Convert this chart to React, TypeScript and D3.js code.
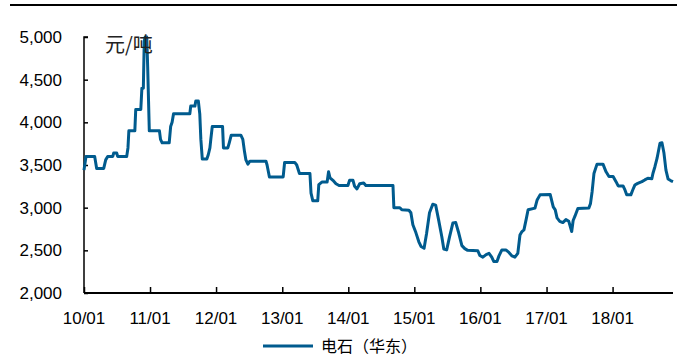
import React, { useEffect, useRef } from 'react';
import * as d3 from 'd3';

// 电石（华东）price, yuan/ton
const dates = [
  '2010-01-01', '2010-01-12', '2010-03-01', '2010-03-12', '2010-04-20', '2010-05-01', '2010-05-12', '2010-06-09',
  '2010-06-14', '2010-07-01', '2010-07-06', '2010-08-25', '2010-09-01', '2010-09-06', '2010-10-09', '2010-10-14',
  '2010-11-11', '2010-11-17', '2010-11-25', '2010-11-30', '2010-12-05', '2010-12-14', '2010-12-19', '2010-12-28',
  '2011-02-22', '2011-02-28', '2011-03-09', '2011-04-17', '2011-04-25', '2011-05-03', '2011-05-11', '2011-08-09',
  '2011-08-14', '2011-09-06', '2011-09-11', '2011-09-25', '2011-10-03', '2011-10-09', '2011-10-17', '2011-11-11',
  '2011-11-19', '2011-11-28', '2011-12-03', '2011-12-11', '2012-02-06', '2012-02-11', '2012-03-06', '2012-03-14',
  '2012-03-25', '2012-05-17', '2012-05-28', '2012-06-06', '2012-06-14', '2012-06-25', '2012-07-06', '2012-10-03',
  '2012-10-09', '2012-10-22', '2013-01-06', '2013-01-14', '2013-03-11', '2013-03-22', '2013-04-06', '2013-06-03',
  '2013-06-09', '2013-06-19', '2013-07-16', '2013-07-22', '2013-08-08', '2013-09-06', '2013-09-14', '2013-09-22',
  '2013-10-08', '2013-10-25', '2013-11-11', '2013-12-30', '2014-01-08', '2014-01-27', '2014-02-05', '2014-02-18',
  '2014-03-05', '2014-03-27', '2014-04-08', '2014-09-05', '2014-09-10', '2014-10-13', '2014-10-24', '2014-12-02',
  '2014-12-13', '2014-12-24', '2015-01-10', '2015-01-26', '2015-02-07', '2015-02-24', '2015-03-10', '2015-03-26',
  '2015-04-13', '2015-04-29', '2015-05-15', '2015-06-02', '2015-06-13', '2015-06-29', '2015-07-15', '2015-08-02',
  '2015-08-18', '2015-09-04', '2015-09-21', '2015-10-07', '2015-10-23', '2015-12-18', '2015-12-29', '2016-01-15',
  '2016-02-02', '2016-02-18', '2016-03-04', '2016-03-15', '2016-04-02', '2016-04-13', '2016-04-29', '2016-05-21',
  '2016-06-07', '2016-06-24', '2016-07-10', '2016-07-26', '2016-08-07', '2016-08-18', '2016-08-29', '2016-09-10',
  '2016-09-21', '2016-10-29', '2016-11-10', '2016-11-26', '2017-01-21', '2017-02-07', '2017-02-18', '2017-02-28',
  '2017-03-15', '2017-04-01', '2017-04-18', '2017-05-04', '2017-05-20', '2017-05-28', '2017-06-07', '2017-06-23',
  '2017-08-23', '2017-09-01', '2017-09-10', '2017-09-20', '2017-10-07', '2017-11-09', '2017-11-26', '2017-12-12',
  '2018-01-04', '2018-01-20', '2018-02-01', '2018-02-28', '2018-03-09', '2018-03-20', '2018-04-12', '2018-04-23',
  '2018-05-04', '2018-05-20', '2018-06-12', '2018-06-28', '2018-07-15', '2018-08-06', '2018-08-12', '2018-08-23',
  '2018-09-04', '2018-09-20', '2018-10-01', '2018-10-12', '2018-10-23', '2018-11-04', '2018-11-20', '2018-12-01',
];

const prices = [
  3440, 3600, 3600, 3460, 3460, 3560, 3600, 3600,
  3640, 3640, 3600, 3600, 3700, 3900, 3900, 4150,
  4150, 4400, 4400, 4950, 5000, 5000, 4650, 3900,
  3900, 3800, 3760, 3760, 3950, 4000, 4100, 4100,
  4190, 4190, 4250, 4250, 4100, 3800, 3570, 3570,
  3620, 3700, 3800, 3950, 3950, 3700, 3700, 3760,
  3850, 3850, 3800, 3660, 3560, 3510, 3545, 3545,
  3500, 3360, 3360, 3530, 3530, 3500, 3400, 3400,
  3170, 3080, 3080, 3270, 3300, 3300, 3420, 3350,
  3320, 3280, 3260, 3260, 3320, 3320, 3250, 3220,
  3280, 3290, 3260, 3260, 3000, 3000, 2975, 2970,
  2940, 2800, 2705, 2600, 2545, 2525, 2700, 2940,
  3040, 3030, 2860, 2660, 2515, 2505, 2660, 2820,
  2825, 2700, 2555, 2520, 2500, 2495, 2440, 2420,
  2450, 2465, 2420, 2370, 2370, 2435, 2505, 2505,
  2475, 2435, 2420, 2465, 2680, 2720, 2740, 2860,
  2975, 2995, 3090, 3150, 3155, 3010, 2975, 2880,
  2840, 2825, 2860, 2840, 2720, 2850, 2900, 2990,
  2995, 3050, 3190, 3400, 3510, 3510, 3420, 3365,
  3365, 3305, 3255, 3255, 3215, 3150, 3150, 3210,
  3265, 3285, 3305, 3325, 3345, 3340, 3400, 3480,
  3580, 3755, 3760, 3640, 3440, 3335, 3315, 3305,
];

const yTicks = [2000, 2500, 3000, 3500, 4000, 4500, 5000];
const xTickYears = [2010, 2011, 2012, 2013, 2014, 2015, 2016, 2017, 2018];
const unitLabel = '元/吨';
const seriesName = '电石（华东）';

const W = 683;
const H = 356;
const LINE_COLOR = '#005b8e';
const FONT = '"Liberation Sans", Arial, sans-serif';

export default function App() {
  const svgRef = useRef<SVGSVGElement>(null);

  useEffect(() => {
    if (!svgRef.current) return;
    const svg = d3.select(svgRef.current);
    svg.selectAll('*').remove();

    const parse = d3.timeParse('%Y-%m-%d');
    const data = dates.map((d, i) => ({ date: parse(d) as Date, value: prices[i] }));

    const x = d3
      .scaleTime()
      .domain([new Date(2010, 0, 1), new Date(2018, 11, 1)])
      .range([84, 673]);
    const y = d3.scaleLinear().domain([2000, 5000]).range([293, 37]);

    // top rule
    svg
      .append('line')
      .attr('x1', 10)
      .attr('x2', 677)
      .attr('y1', 5)
      .attr('y2', 5)
      .attr('stroke', '#000')
      .attr('stroke-width', 2);

    // y axis
    const yAxis = svg
      .append('g')
      .attr('transform', 'translate(84,0)')
      .call(
        d3
          .axisRight(y)
          .tickValues(yTicks)
          .tickSize(4)
          .tickFormat(() => '')
      );
    yAxis.select('.domain').attr('stroke-width', 1.5).attr('d', `M4,${y(5000)}H0V${y(2000)}`);
    yAxis.selectAll('.tick line').attr('stroke-width', 1.5);

    svg
      .append('g')
      .selectAll('text')
      .data(yTicks)
      .enter()
      .append('text')
      .attr('x', 62)
      .attr('y', (d) => y(d))
      .attr('dy', '0.35em')
      .attr('text-anchor', 'end')
      .style('font-family', FONT)
      .style('font-size', '17px')
      .attr('fill', '#000')
      .text((d) => d3.format(',')(d));

    // x axis
    const xTicks = xTickYears.map((yr) => new Date(yr, 0, 1));
    const xAxis = svg
      .append('g')
      .attr('transform', 'translate(0,293)')
      .call(
        d3
          .axisTop(x)
          .tickValues(xTicks)
          .tickSize(6)
          .tickFormat(() => '')
      );
    xAxis.select('.domain').attr('stroke-width', 2).attr('d', `M84,0H673`);
    xAxis.selectAll('.tick line').attr('stroke-width', 1.5);

    svg
      .append('g')
      .selectAll('text')
      .data(xTicks)
      .enter()
      .append('text')
      .attr('x', (d) => x(d))
      .attr('y', 324)
      .attr('text-anchor', 'middle')
      .style('font-family', FONT)
      .style('font-size', '17px')
      .attr('fill', '#000')
      .text((d) => d3.timeFormat('%y/%m')(d));

    // series
    const line = d3
      .line<{ date: Date; value: number }>()
      .x((d) => x(d.date))
      .y((d) => y(d.value));

    svg
      .append('path')
      .datum(data)
      .attr('fill', 'none')
      .attr('stroke', LINE_COLOR)
      .attr('stroke-width', 3)
      .attr('stroke-linejoin', 'round')
      .attr('d', line);

    // unit label
    svg
      .append('text')
      .attr('x', 105)
      .attr('y', 52)
      .style('font-family', '"Noto Sans CJK SC", sans-serif')
      .style('font-size', '20px')
      .attr('fill', '#222')
      .text(unitLabel);

    // legend
    svg
      .append('line')
      .attr('x1', 263)
      .attr('x2', 313)
      .attr('y1', 346)
      .attr('y2', 346)
      .attr('stroke', LINE_COLOR)
      .attr('stroke-width', 3);
    svg
      .append('text')
      .attr('x', 321)
      .attr('y', 346)
      .attr('dy', '0.35em')
      .style('font-family', '"Noto Sans CJK SC", sans-serif')
      .style('font-size', '16px')
      .attr('fill', '#000')
      .text(seriesName);
  }, []);

  return (
    <svg
      ref={svgRef}
      width={W}
      height={H}
      style={{ position: 'absolute', left: 0, top: 0, background: '#fff' }}
    />
  );
}
